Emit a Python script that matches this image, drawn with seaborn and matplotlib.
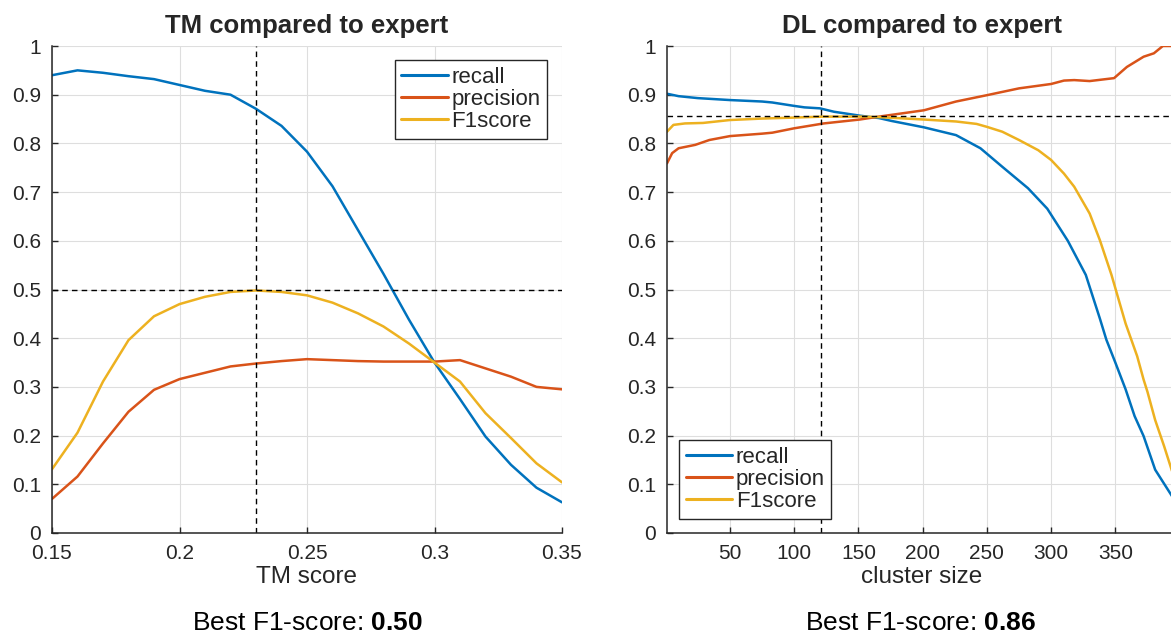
import numpy as np
import pandas as pd
import matplotlib
matplotlib.use('Agg')
import matplotlib.pyplot as plt
from matplotlib.ticker import FuncFormatter
import seaborn as sns

sns.set_style('ticks')
plt.rcParams['font.family'] = ['Liberation Sans', 'DejaVu Sans']
plt.rcParams['mathtext.fontset'] = 'custom'
plt.rcParams['mathtext.rm'] = 'Liberation Sans'
plt.rcParams['mathtext.bf'] = 'Liberation Sans:bold'

# TM panel
tm_score = [0.15, 0.16, 0.17, 0.18, 0.19, 0.20, 0.21, 0.22, 0.23, 0.24, 0.25,
            0.26, 0.27, 0.28, 0.29, 0.30, 0.31, 0.32, 0.33, 0.34, 0.35]
tm_recall = [0.940, 0.950, 0.945, 0.938, 0.932, 0.920, 0.908, 0.900, 0.871, 0.836, 0.783,
             0.712, 0.622, 0.532, 0.438, 0.350, 0.275, 0.198, 0.140, 0.093, 0.063]
tm_precision = [0.070, 0.116, 0.184, 0.249, 0.294, 0.316, 0.329, 0.342, 0.348, 0.353, 0.357,
                0.355, 0.353, 0.352, 0.352, 0.352, 0.355, 0.338, 0.321, 0.300, 0.295]
tm_f1 = [0.131, 0.206, 0.311, 0.396, 0.445, 0.470, 0.485, 0.495, 0.498, 0.495, 0.488,
         0.473, 0.451, 0.424, 0.389, 0.350, 0.311, 0.246, 0.195, 0.143, 0.104]
tm_best_x = 0.23
tm_best_f1 = 0.50

# DL panel
dl_recall_x = [1, 10, 25, 50, 75, 83, 100, 108, 120, 131, 151, 166, 176, 201, 226, 245,
               262, 282, 297, 313, 327, 338, 343, 350, 358, 365, 372, 381, 395]
dl_recall = [0.902, 0.897, 0.893, 0.889, 0.886, 0.884, 0.877, 0.874, 0.872, 0.865, 0.857,
             0.852, 0.846, 0.833, 0.817, 0.790, 0.752, 0.708, 0.666, 0.600, 0.530, 0.440,
             0.397, 0.350, 0.295, 0.240, 0.199, 0.130, 0.072]
dl_precision_x = [1, 5, 10, 23, 34, 50, 75, 83, 100, 123, 151, 166, 201, 226, 250, 275,
                  300, 310, 318, 330, 349, 359, 372, 380, 387, 398]
dl_precision = [0.759, 0.780, 0.790, 0.797, 0.807, 0.815, 0.820, 0.822, 0.831, 0.841, 0.849,
                0.855, 0.868, 0.886, 0.899, 0.913, 0.922, 0.929, 0.930, 0.928, 0.934, 0.957,
                0.978, 0.985, 1.000, 1.000]
dl_f1_x = [1, 6, 15, 29, 50, 75, 100, 122, 151, 166, 201, 226, 242, 250, 262, 275, 290,
           300, 310, 318, 330, 338, 347, 358, 367, 372, 375, 381, 388, 395]
dl_f1 = [0.824, 0.838, 0.841, 0.842, 0.848, 0.851, 0.853, 0.855, 0.855, 0.854, 0.849, 0.845,
         0.840, 0.834, 0.824, 0.807, 0.786, 0.766, 0.738, 0.711, 0.656, 0.601, 0.530, 0.430,
         0.363, 0.315, 0.290, 0.232, 0.178, 0.120]
dl_best_x = 121
dl_best_f1 = 0.857

metrics = ['recall', 'precision', 'F1score']
colours = {'recall': '#0072BD', 'precision': '#D95319', 'F1score': '#EDB120'}
ink = '#262626'


def style_axes(ax):
    sns.despine(ax=ax)
    for s in ['left', 'bottom']:
        ax.spines[s].set_color(ink)
        ax.spines[s].set_linewidth(1.1)
    ax.grid(True, color='#dedede', linewidth=0.8)
    ax.set_axisbelow(True)
    ax.tick_params(direction='in', length=4, width=1, colors=ink,
                   labelsize=15, pad=8)
    fmt = FuncFormatter(lambda v, p: '%g' % round(v, 4))
    ax.xaxis.set_major_formatter(fmt)
    ax.yaxis.set_major_formatter(fmt)
    ax.set_ylim(0, 1)
    ax.set_yticks(np.arange(0, 1.01, 0.1))
    ax.set_ylabel('')


def add_legend(ax, **kw):
    leg = ax.legend(borderaxespad=0, fontsize=16, handlelength=2.1, handletextpad=0.15,
                    labelspacing=0.05, borderpad=0.3, fancybox=False, framealpha=1,
                    edgecolor=ink, **kw)
    leg.get_frame().set_linewidth(1.0)
    for h in leg.get_lines():
        h.set_linewidth(2.2)


fig = plt.figure(figsize=(11.71, 6.37), dpi=100)
ax1 = fig.add_axes([52 / 1171, 104 / 637, 510 / 1171, 487 / 637])
ax2 = fig.add_axes([667 / 1171, 104 / 637, 510 / 1171, 487 / 637])

# left panel
tm = pd.DataFrame({'x': tm_score, 'recall': tm_recall,
                   'precision': tm_precision, 'F1score': tm_f1})
for m in metrics:
    sns.lineplot(data=tm, x='x', y=m, color=colours[m], linewidth=1.8,
                 label=m, ax=ax1)
ax1.axvline(tm_best_x, color='black', linewidth=1, dashes=(4, 3))
ax1.axhline(tm_best_f1, color='black', linewidth=1, dashes=(4, 3))
style_axes(ax1)
ax1.set_xlim(0.15, 0.35)
ax1.set_xticks([0.15, 0.2, 0.25, 0.3, 0.35])
ax1.set_xlabel('TM score', fontsize=17.5, color=ink, labelpad=2)
ax1.set_title('TM compared to expert', fontsize=18.5, fontweight='bold', pad=9)
add_legend(ax1, loc='upper right', bbox_to_anchor=(0.971, 0.971))

# right panel
dl_series = {'recall': (dl_recall_x, dl_recall),
             'precision': (dl_precision_x, dl_precision),
             'F1score': (dl_f1_x, dl_f1)}
for m in metrics:
    xs, ys = dl_series[m]
    sns.lineplot(x=xs, y=ys, color=colours[m], linewidth=1.8, label=m, ax=ax2)
ax2.axvline(dl_best_x, color='black', linewidth=1, dashes=(4, 3))
ax2.axhline(dl_best_f1, color='black', linewidth=1, dashes=(4, 3))
style_axes(ax2)
ax2.set_xlim(1, 398)
ax2.set_xticks([50, 100, 150, 200, 250, 300, 350])
ax2.set_xlabel('cluster size', fontsize=17.5, color=ink, labelpad=2)
ax2.set_title('DL compared to expert', fontsize=18.5, fontweight='bold', pad=9)
add_legend(ax2, loc='lower left', bbox_to_anchor=(0.0235, 0.029))

# captions under each panel
fig.text(307 / 1171, 0.022, 'Best F1-score: $\\mathbf{%.2f}$' % tm_best_f1,
         ha='center', va='center', fontsize=19, color='black')
fig.text(921 / 1171, 0.022, 'Best F1-score: $\\mathbf{%.2f}$' % dl_best_f1,
         ha='center', va='center', fontsize=19, color='black')

fig.savefig('out.png', dpi=100)
